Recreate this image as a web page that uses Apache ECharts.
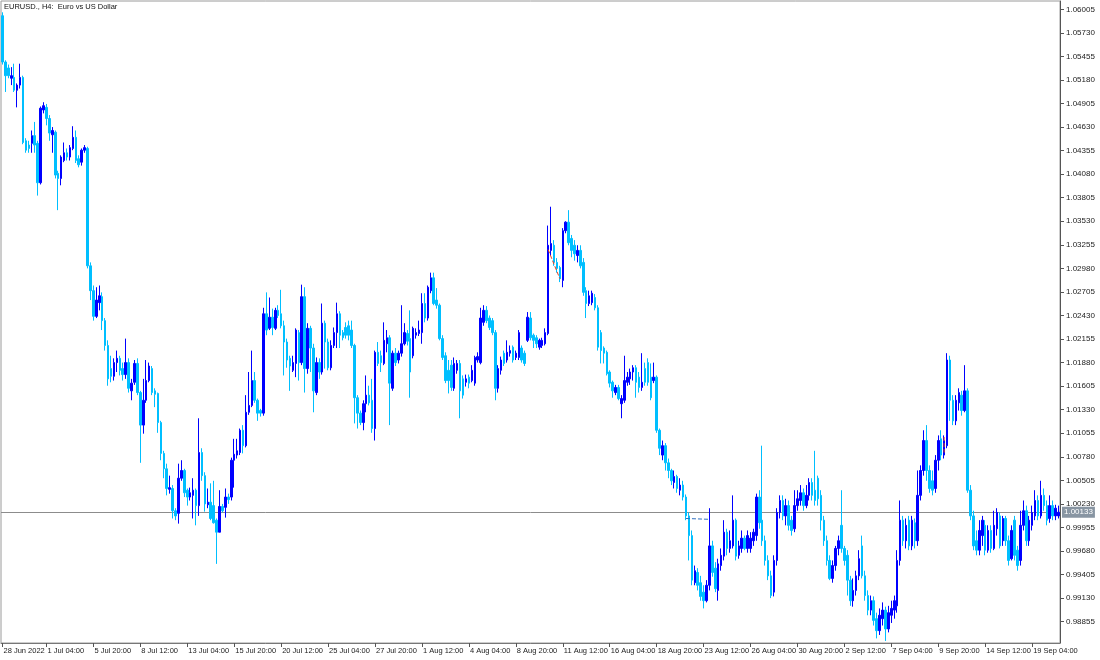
<!DOCTYPE html>
<html><head><meta charset="utf-8">
<script src="https://cdn.jsdelivr.net/npm/echarts@6/dist/echarts.min.js"></script>
<style>html,body{margin:0;padding:0;background:#fff}#c{width:1100px;height:660px}</style>
</head><body><div id="c"></div>
<script>
const chartTitle = 'EURUSD., H4:  Euro vs US Dollar';
const opens = [
1.0593,1.0539,1.0532,1.0520,1.0521,1.0506,1.0512,1.0521,1.0447,1.0442,
1.0444,1.0453,1.0444,1.0398,1.0483,1.0486,1.0473,1.0454,1.0457,1.0409,
1.0403,1.0424,1.0433,1.0428,1.0438,1.0451,1.0426,1.0422,1.0436,1.0438,
1.0301,1.0272,1.0242,1.0258,1.0265,1.0237,1.0208,1.0181,1.0172,1.0188,
1.0193,1.0181,1.0174,1.0188,1.0155,1.0165,1.0187,1.0153,1.0115,1.0144,
1.0167,1.0181,1.0155,1.0152,1.0118,1.0082,1.0064,1.0040,1.0041,1.0015,
1.0012,1.0053,1.0062,1.0039,1.0031,1.0033,1.0039,1.0021,1.0083,1.0056,
1.0022,1.0025,1.0021,1.0004,0.9990,1.0020,1.0019,1.0031,1.0031,1.0074,
1.0080,1.0083,1.0109,1.0091,1.0130,1.0138,1.0167,1.0144,1.0132,1.0129,
1.0245,1.0228,1.0241,1.0228,1.0249,1.0245,1.0231,1.0212,1.0193,1.0179,
1.0187,1.0223,1.0188,1.0265,1.0181,1.0228,1.0205,1.0153,1.0188,1.0177,
1.0234,1.0212,1.0182,1.0208,1.0223,1.0245,1.0223,1.0229,1.0231,1.0226,
1.0208,1.0147,1.0129,1.0118,1.0140,1.0150,1.0144,1.0111,1.0200,1.0196,
1.0187,1.0210,1.0217,1.0158,1.0199,1.0191,1.0199,1.0210,1.0222,1.0216,
1.0196,1.0220,1.0222,1.0223,1.0257,1.0240,1.0272,1.0287,1.0261,1.0255,
1.0216,1.0196,1.0179,1.0185,1.0158,1.0179,1.0187,1.0169,1.0165,1.0171,
1.0167,1.0164,1.0191,1.0188,1.0235,1.0249,1.0240,1.0237,1.0223,1.0158,
1.0179,1.0199,1.0191,1.0199,1.0206,1.0194,1.0194,1.0205,1.0199,1.0214,
1.0240,1.0220,1.0217,1.0206,1.0208,1.0210,1.0222,1.0319,1.0325,1.0305,
1.0299,1.0284,1.0342,1.0352,1.0333,1.0325,1.0313,1.0319,1.0305,1.0272,
1.0257,1.0258,1.0264,1.0252,1.0223,1.0205,1.0200,1.0177,1.0165,1.0153,
1.0159,1.0140,1.0144,1.0165,1.0169,1.0177,1.0182,1.0171,1.0159,1.0181,
1.0188,1.0171,1.0167,1.0171,1.0109,1.0080,1.0091,1.0071,1.0062,1.0048,
1.0055,1.0039,1.0045,1.0031,1.0009,0.9986,0.9931,0.9943,0.9931,0.9920,
0.9910,0.9928,0.9974,0.9948,0.9922,0.9951,0.9962,0.9990,0.9971,0.9974,
1.0004,0.9963,0.9971,0.9983,0.9971,0.9971,0.9980,0.9986,1.0031,1.0004,
0.9980,0.9957,0.9939,0.9920,0.9957,1.0013,1.0027,1.0009,1.0021,1.0004,
0.9994,1.0021,1.0027,1.0036,1.0021,1.0033,1.0048,1.0039,1.0053,1.0033,
1.0004,0.9980,0.9957,0.9936,0.9951,0.9971,0.9998,0.9971,0.9963,0.9934,
0.9910,0.9922,0.9939,0.9974,0.9939,0.9916,0.9899,0.9910,0.9889,0.9875,
0.9889,0.9899,0.9877,0.9893,0.9899,0.9904,0.9957,1.0004,0.9980,1.0004,
0.9974,1.0001,0.9980,1.0033,1.0062,1.0097,1.0062,1.0050,1.0041,1.0074,
1.0099,1.0080,1.0091,1.0191,1.0144,1.0120,1.0141,1.0150,1.0132,1.0155,
1.0039,1.0009,0.9980,0.9969,0.9986,0.9998,0.9969,0.9992,0.9971,0.9994,
1.0009,0.9980,1.0006,0.9980,0.9959,1.0004,0.9969,0.9957,0.9998,1.0015,
0.9980,0.9998,1.0009,1.0027,1.0009,1.0033,1.0021,1.0006,1.0021,1.0009,1.0009
];
const closes = [
1.0539,1.0523,1.0523,1.0523,1.0506,1.0512,1.0521,1.0445,1.0436,1.0438,
1.0453,1.0442,1.0398,1.0485,1.0488,1.0473,1.0456,1.0459,1.0407,1.0403,
1.0428,1.0433,1.0428,1.0439,1.0451,1.0424,1.0419,1.0436,1.0439,1.0301,
1.0272,1.0242,1.0261,1.0266,1.0237,1.0208,1.0169,1.0172,1.0188,1.0193,
1.0179,1.0174,1.0188,1.0158,1.0164,1.0187,1.0153,1.0115,1.0144,1.0167,
1.0184,1.0153,1.0151,1.0118,1.0082,1.0064,1.0041,1.0042,1.0015,1.0009,
1.0053,1.0062,1.0036,1.0031,1.0036,1.0039,1.0021,1.0083,1.0056,1.0023,
1.0025,1.0006,1.0001,0.9990,1.0020,1.0015,1.0031,1.0028,1.0074,1.0081,
1.0085,1.0109,1.0091,1.0130,1.0138,1.0167,1.0144,1.0129,1.0129,1.0245,
1.0226,1.0241,1.0229,1.0249,1.0243,1.0231,1.0212,1.0191,1.0184,1.0188,
1.0226,1.0188,1.0265,1.0181,1.0228,1.0205,1.0155,1.0188,1.0177,1.0234,
1.0212,1.0182,1.0208,1.0223,1.0245,1.0220,1.0217,1.0220,1.0220,1.0208,
1.0147,1.0129,1.0118,1.0140,1.0150,1.0141,1.0111,1.0200,1.0187,1.0188,
1.0214,1.0217,1.0164,1.0199,1.0188,1.0199,1.0210,1.0223,1.0213,1.0177,
1.0228,1.0223,1.0226,1.0257,1.0240,1.0276,1.0287,1.0257,1.0255,1.0216,
1.0194,1.0167,1.0167,1.0159,1.0187,1.0187,1.0155,1.0150,1.0169,1.0164,
1.0179,1.0194,1.0195,1.0240,1.0249,1.0237,1.0229,1.0223,1.0158,1.0181,
1.0191,1.0187,1.0200,1.0202,1.0191,1.0199,1.0223,1.0191,1.0187,1.0241,
1.0217,1.0214,1.0210,1.0214,1.0214,1.0223,1.0325,1.0327,1.0305,1.0298,
1.0286,1.0342,1.0352,1.0328,1.0319,1.0315,1.0319,1.0301,1.0270,1.0257,
1.0266,1.0269,1.0252,1.0206,1.0202,1.0199,1.0175,1.0164,1.0155,1.0159,
1.0146,1.0146,1.0167,1.0171,1.0177,1.0182,1.0165,1.0159,1.0165,1.0165,
1.0165,1.0147,1.0171,1.0109,1.0088,1.0091,1.0071,1.0062,1.0050,1.0055,
1.0041,1.0045,1.0031,1.0009,0.9986,0.9934,0.9945,0.9928,0.9915,0.9910,
0.9928,0.9974,0.9943,0.9924,0.9953,0.9963,0.9990,0.9971,0.9980,1.0004,
0.9962,0.9974,0.9983,0.9971,0.9986,0.9983,0.9990,1.0031,1.0001,0.9980,
0.9957,0.9939,0.9916,0.9957,1.0013,1.0027,1.0009,1.0021,0.9998,0.9992,
1.0021,1.0029,1.0036,1.0021,1.0033,1.0048,1.0033,1.0027,1.0029,1.0004,
0.9980,0.9957,0.9936,0.9951,0.9971,0.9980,0.9971,0.9957,0.9934,0.9910,
0.9922,0.9939,0.9959,0.9939,0.9916,0.9899,0.9910,0.9887,0.9875,0.9893,
0.9899,0.9877,0.9896,0.9901,0.9910,0.9957,1.0004,0.9980,0.9998,0.9974,
1.0004,0.9980,1.0033,1.0062,1.0097,1.0062,1.0041,1.0039,1.0074,1.0097,
1.0080,1.0097,1.0191,1.0144,1.0120,1.0144,1.0153,1.0132,1.0155,1.0039,
1.0009,0.9974,0.9969,0.9992,1.0004,0.9969,0.9992,0.9971,0.9998,1.0013,
0.9974,1.0006,0.9980,0.9957,0.9992,0.9963,0.9951,0.9998,1.0015,0.9980,
1.0004,1.0013,1.0027,1.0009,1.0033,1.0021,1.0004,1.0021,1.0009,1.0018,1.00133
];
const lows = [
1.0536,1.0504,1.0520,1.0512,1.0504,1.0486,1.0508,1.0443,1.0433,1.0433,
1.0433,1.0433,1.0383,1.0396,1.0479,1.0465,1.0447,1.0433,1.0403,1.0366,
1.0395,1.0422,1.0424,1.0424,1.0436,1.0421,1.0416,1.0418,1.0433,1.0298,
1.0261,1.0237,1.0240,1.0249,1.0226,1.0202,1.0161,1.0165,1.0167,1.0177,
1.0173,1.0167,1.0169,1.0153,1.0144,1.0162,1.0150,1.0071,1.0105,1.0141,
1.0165,1.0150,1.0136,1.0106,1.0074,1.0053,1.0033,1.0035,1.0006,1.0004,
1.0000,1.0050,1.0031,1.0021,1.0027,1.0006,0.9998,1.0009,1.0050,1.0014,
1.0018,1.0004,1.0000,0.9953,0.9990,1.0013,1.0007,1.0023,1.0027,1.0042,
1.0076,1.0080,1.0082,1.0089,1.0127,1.0136,1.0141,1.0120,1.0125,1.0126,
1.0220,1.0226,1.0220,1.0226,1.0240,1.0228,1.0173,1.0182,1.0155,1.0177,
1.0171,1.0167,1.0185,1.0153,1.0175,1.0177,1.0130,1.0150,1.0169,1.0174,
1.0181,1.0179,1.0179,1.0205,1.0205,1.0205,1.0214,1.0216,1.0214,1.0205,
1.0117,1.0111,1.0115,1.0109,1.0130,1.0138,1.0106,1.0097,1.0184,1.0177,
1.0185,1.0200,1.0115,1.0155,1.0184,1.0187,1.0195,1.0208,1.0208,1.0147,
1.0193,1.0216,1.0219,1.0210,1.0235,1.0237,1.0269,1.0255,1.0251,1.0214,
1.0191,1.0164,1.0152,1.0155,1.0155,1.0175,1.0123,1.0146,1.0160,1.0158,
1.0165,1.0161,1.0188,1.0186,1.0231,1.0234,1.0226,1.0220,1.0144,1.0153,
1.0174,1.0184,1.0188,1.0195,1.0188,1.0191,1.0191,1.0188,1.0184,1.0212,
1.0214,1.0205,1.0205,1.0203,1.0205,1.0208,1.0220,1.0313,1.0301,1.0293,
1.0282,1.0276,1.0339,1.0325,1.0311,1.0307,1.0305,1.0298,1.0266,1.0240,
1.0254,1.0255,1.0249,1.0202,1.0187,1.0187,1.0173,1.0159,1.0147,1.0150,
1.0144,1.0123,1.0141,1.0161,1.0162,1.0167,1.0147,1.0153,1.0155,1.0161,
1.0161,1.0144,1.0164,1.0106,1.0080,1.0074,1.0062,1.0053,1.0045,1.0041,
1.0036,1.0033,1.0027,1.0004,0.9957,0.9928,0.9928,0.9922,0.9910,0.9901,
0.9908,0.9922,0.9938,0.9920,0.9910,0.9945,0.9957,0.9963,0.9966,0.9971,
0.9957,0.9959,0.9966,0.9969,0.9966,0.9966,0.9974,0.9980,0.9994,0.9974,
0.9951,0.9934,0.9913,0.9915,0.9951,1.0006,1.0004,0.9998,0.9992,0.9986,
0.9990,1.0015,1.0021,1.0015,1.0018,1.0027,1.0027,1.0021,1.0021,0.9992,
0.9974,0.9951,0.9934,0.9931,0.9945,0.9963,0.9966,0.9951,0.9916,0.9904,
0.9903,0.9916,0.9934,0.9936,0.9910,0.9893,0.9893,0.9881,0.9866,0.9870,
0.9881,0.9863,0.9873,0.9884,0.9889,0.9896,0.9951,0.9974,0.9971,0.9969,
0.9969,0.9971,0.9974,1.0027,1.0056,1.0050,1.0036,1.0033,1.0036,1.0062,
1.0074,1.0076,1.0088,1.0120,1.0115,1.0115,1.0132,1.0126,1.0130,1.0036,
1.0004,0.9969,0.9963,0.9963,0.9974,0.9963,0.9966,0.9966,0.9969,0.9986,
0.9971,0.9974,0.9974,0.9951,0.9957,0.9957,0.9945,0.9951,0.9992,0.9974,
0.9974,0.9992,1.0004,1.0004,1.0006,1.0015,0.9998,1.0001,1.0004,1.0004,1.0006
];
const highs = [
1.0597,1.0541,1.0536,1.0533,1.0537,1.0514,1.0537,1.0523,1.0450,1.0447,
1.0459,1.0469,1.0447,1.0487,1.0492,1.0490,1.0477,1.0463,1.0459,1.0412,
1.0430,1.0445,1.0438,1.0442,1.0464,1.0459,1.0430,1.0438,1.0442,1.0440,
1.0305,1.0278,1.0276,1.0278,1.0270,1.0240,1.0214,1.0196,1.0193,1.0202,
1.0196,1.0188,1.0216,1.0193,1.0169,1.0191,1.0193,1.0155,1.0169,1.0191,
1.0188,1.0184,1.0158,1.0153,1.0120,1.0085,1.0070,1.0056,1.0045,1.0018,
1.0070,1.0074,1.0064,1.0041,1.0042,1.0053,1.0041,1.0123,1.0088,1.0060,
1.0041,1.0047,1.0050,1.0006,1.0039,1.0023,1.0041,1.0035,1.0077,1.0099,
1.0099,1.0111,1.0115,1.0150,1.0177,1.0202,1.0177,1.0146,1.0134,1.0252,
1.0270,1.0264,1.0251,1.0252,1.0255,1.0273,1.0237,1.0216,1.0196,1.0196,
1.0228,1.0226,1.0279,1.0276,1.0234,1.0231,1.0210,1.0194,1.0193,1.0257,
1.0237,1.0216,1.0214,1.0229,1.0258,1.0248,1.0226,1.0235,1.0237,1.0237,
1.0210,1.0150,1.0132,1.0144,1.0173,1.0161,1.0169,1.0202,1.0212,1.0202,
1.0235,1.0226,1.0220,1.0202,1.0205,1.0202,1.0255,1.0234,1.0226,1.0249,
1.0230,1.0228,1.0237,1.0269,1.0269,1.0278,1.0293,1.0293,1.0275,1.0257,
1.0220,1.0200,1.0191,1.0191,1.0194,1.0191,1.0191,1.0173,1.0174,1.0174,
1.0185,1.0196,1.0200,1.0252,1.0255,1.0254,1.0243,1.0240,1.0226,1.0185,
1.0195,1.0202,1.0214,1.0208,1.0208,1.0202,1.0226,1.0208,1.0202,1.0247,
1.0247,1.0222,1.0220,1.0216,1.0217,1.0228,1.0348,1.0370,1.0331,1.0310,
1.0301,1.0345,1.0353,1.0366,1.0337,1.0331,1.0325,1.0325,1.0310,1.0276,
1.0272,1.0272,1.0268,1.0255,1.0226,1.0207,1.0202,1.0179,1.0167,1.0162,
1.0162,1.0150,1.0196,1.0177,1.0181,1.0185,1.0185,1.0177,1.0199,1.0188,
1.0193,1.0187,1.0188,1.0173,1.0111,1.0097,1.0094,1.0076,1.0064,1.0062,
1.0057,1.0053,1.0050,1.0034,1.0013,0.9992,0.9951,0.9948,0.9939,0.9928,
0.9934,1.0018,0.9980,0.9955,0.9959,0.9971,1.0004,0.9994,0.9992,1.0033,
1.0006,0.9980,0.9992,0.9986,0.9992,0.9990,0.9994,1.0035,1.0039,1.0091,
0.9986,0.9963,0.9945,0.9963,1.0018,1.0033,1.0033,1.0029,1.0027,1.0009,
1.0039,1.0039,1.0045,1.0041,1.0045,1.0053,1.0053,1.0085,1.0056,1.0039,
1.0009,0.9986,0.9963,0.9957,0.9974,0.9986,1.0039,0.9974,0.9969,0.9939,
0.9936,0.9945,0.9969,0.9986,0.9945,0.9922,0.9916,0.9915,0.9896,0.9901,
0.9908,0.9903,0.9904,0.9910,0.9916,0.9969,1.0027,1.0009,1.0006,1.0009,
1.0009,1.0006,1.0062,1.0068,1.0109,1.0115,1.0068,1.0062,1.0080,1.0103,
1.0109,1.0103,1.0199,1.0196,1.0150,1.0150,1.0158,1.0155,1.0185,1.0158,
1.0045,1.0015,0.9992,1.0004,1.0009,1.0004,0.9998,0.9998,1.0015,1.0018,
1.0013,1.0009,1.0009,0.9986,0.9998,1.0009,0.9974,1.0015,1.0027,1.0021,
1.0009,1.0021,1.0039,1.0033,1.0050,1.0041,1.0027,1.0033,1.0027,1.0022,1.0021
];
const xTickIdx = [0,15,31,47,63,79,95,111,127,143,159,175,191,207,223,239,255,271,287,303,319,335,351];
const xTickLabels = ['28 Jun 2022','1 Jul 04:00','5 Jul 20:00','8 Jul 12:00','13 Jul 04:00','15 Jul 20:00','20 Jul 12:00','25 Jul 04:00','27 Jul 20:00','1 Aug 12:00','4 Aug 04:00','8 Aug 20:00','11 Aug 12:00','16 Aug 04:00','18 Aug 20:00','23 Aug 12:00','26 Aug 04:00','30 Aug 20:00','2 Sep 12:00','7 Sep 04:00','9 Sep 20:00','14 Sep 12:00','19 Sep 04:00'];
const yTicks = [0.98855,0.99130,0.99405,0.99680,0.99955,1.00230,1.00505,1.00780,1.01055,1.01330,1.01605,1.01880,1.02155,1.02430,1.02705,1.02980,1.03255,1.03530,1.03805,1.04080,1.04355,1.04630,1.04905,1.05180,1.05455,1.05730,1.06005];
const lastPrice = 1.00133;
const tradeSell = [[186, 1.0320], [190, 1.0286]];
const tradeBuy = [[233, 1.0006], [241, 1.0005]];
const tradeSell2 = [[321, 1.0101], [321, 1.0083]];

// bar time categories (H4, weekdays only)
const months = ['Jan','Feb','Mar','Apr','May','Jun','Jul','Aug','Sep','Oct','Nov','Dec'];
const categories = [];
let t = Date.UTC(2022, 5, 28, 16);
while (categories.length < opens.length) {
  const d = new Date(t);
  const wd = d.getUTCDay();
  if (wd !== 0 && wd !== 6) {
    categories.push(d.getUTCDate() + ' ' + months[d.getUTCMonth()] + ' ' + String(d.getUTCHours()).padStart(2, '0') + ':00');
  }
  t += 4 * 3600 * 1000;
}
const candles = opens.map((o, i) => [o, closes[i], lows[i], highs[i]]);
const tickSet = new Set(xTickIdx);
const labelMap = {};
xTickIdx.forEach((k, j) => { labelMap[k] = xTickLabels[j]; });

const RED = '#e83010', BLUE = '#2060c0';
function tradeSeries(pts, lineColor, c0, c1) {
  return {
    type: 'line', symbol: 'diamond', symbolSize: 5, z: 5,
    lineStyle: { color: lineColor, width: 1, type: 'dashed' },
    data: [{ value: pts[0], itemStyle: { color: c0 } }, { value: pts[1], itemStyle: { color: c1 } }]
  };
}

const FONT = 'Liberation Sans';
const chart = echarts.init(document.getElementById('c'), null, { renderer: 'canvas' });
const buySeries = tradeSeries(tradeBuy, '#3070c0', BLUE, RED);
buySeries.markLine = {
  silent: true, symbol: ['none', 'none'], precision: 5, z: 1,
  lineStyle: { color: '#8c8c8c', width: 1, type: 'solid' },
  label: {
    show: true, position: 'end', distance: 2, formatter: lastPrice.toFixed(5),
    backgroundColor: '#8895a2', color: '#ffffff', padding: [2, 2, 1, 2], fontFamily: FONT, fontSize: 8
  },
  data: [{ yAxis: lastPrice }]
};
chart.setOption({
  animation: false,
  backgroundColor: '#ffffff',
  title: {
    text: chartTitle, left: 4, top: 3, padding: 0,
    textStyle: { fontFamily: FONT, fontSize: 7.5, fontWeight: 'normal', color: '#111' }
  },
  grid: { left: 1, right: 40, top: 1, bottom: 17, show: true, borderColor: '#9a9a9a', borderWidth: 1, backgroundColor: '#fff' },
  xAxis: {
    type: 'category', data: categories, boundaryGap: true,
    axisLine: { show: true, lineStyle: { color: '#777', width: 1 } },
    axisTick: { show: true, alignWithLabel: true, interval: (i) => tickSet.has(i), length: 4, lineStyle: { color: '#555' } },
    axisLabel: {
      interval: (i) => tickSet.has(i), formatter: (v, i) => labelMap[i] || '',
      align: 'left', padding: [0, 0, 0, 1], margin: 4, fontFamily: FONT, fontSize: 7.5, color: '#222',
      hideOverlap: false, showMinLabel: true, showMaxLabel: true
    },
    splitLine: { show: false }
  },
  yAxis: {
    type: 'value', position: 'right', min: 0.98606, max: 1.06102, scale: true,
    axisLine: { show: true, lineStyle: { color: '#555', width: 1 } },
    axisTick: { show: true, customValues: yTicks, length: 4, lineStyle: { color: '#555' } },
    axisLabel: { customValues: yTicks, formatter: (v) => v.toFixed(5), margin: 6, fontFamily: FONT, fontSize: 8, color: '#222' },
    splitLine: { show: false }
  },
  series: [
    {
      type: 'candlestick', data: candles, barWidth: 2,
      itemStyle: { color: '#0000ff', color0: '#00bfff', borderColor: '#0000ff', borderColor0: '#00bfff', borderWidth: 1 }
    },
    tradeSeries(tradeSell, '#e04020', RED, BLUE),
    buySeries,
    tradeSeries(tradeSell2, '#e04020', RED, BLUE)
  ]
});
</script></body></html>
